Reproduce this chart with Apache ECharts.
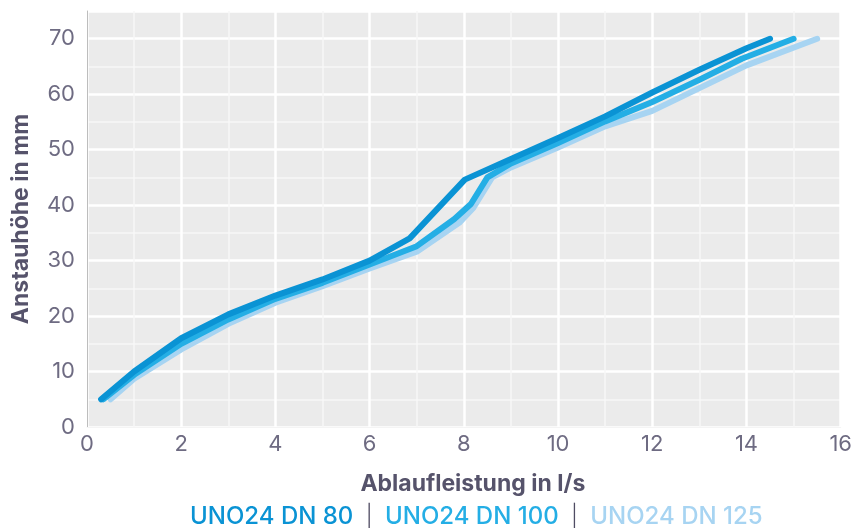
<!DOCTYPE html>
<html>
<head>
<meta charset="utf-8">
<script src="https://cdn.jsdelivr.net/npm/echarts@6/dist/echarts.min.js"></script>
<style>
html,body{margin:0;padding:0;background:#fff;}
#c{width:855px;height:528px;}
</style>
</head>
<body>
<div id="c"></div>
<script>
// Data (x = Ablaufleistung in l/s, y = Anstauhöhe in mm)
const seriesNames = ['UNO24 DN 80', 'UNO24 DN 100', 'UNO24 DN 125'];
const dn80 = [[0.3,5],[1,10],[2,16],[3,20.3],[4,23.7],[5,26.6],[6,30],[6.85,34],[8.02,44.6],[9,48.3],[10,52.1],[11,56],[12,60.3],[13,64.4],[14,68.3],[14.5,70]];
const dn100 = [[0.35,5],[1,9.4],[2,15],[3,19.4],[4,23.1],[5,26],[6,29.3],[7,32.6],[7.8,37.5],[8.15,40.2],[8.5,45],[9,47.5],[10,51.2],[11,55.1],[12,58.6],[13,62.6],[13.9,66.4],[15,70]];
const dn125 = [[0.5,5],[1,8.7],[2,14],[3,18.6],[4,22.4],[5,25.4],[6,28.6],[7,31.6],[7.9,36.8],[8.2,39.5],[8.6,45],[9,46.8],[10,50.4],[11,54.2],[12,57],[13,61.1],[14,65.2],[15.5,70]];
const xTicks = {min: 0, max: 16, interval: 2};
const yTicks = {min: 0, max: 75, interval: 10};
const xName = 'Ablaufleistung in l/s';
const yName = 'Anstauhöhe in mm';

const colors = ['#0a93d4', '#24aee5', '#a7d4f2'];
const FONT = 'Inter';
const chart = echarts.init(document.getElementById('c'), null, {renderer: 'canvas'});

function mkSeries(name, data, color, z) {
  return {
    name: name, type: 'line', data: data, symbol: 'none', z: z,
    lineStyle: {color: color, width: 6, cap: 'round', join: 'round'},
    itemStyle: {color: color}
  };
}

chart.setOption({
  animation: false,
  backgroundColor: '#ffffff',
  grid: {left: 87, right: 7, top: 11, bottom: 101, show: true, backgroundColor: '#ebebeb', borderWidth: 0},
  xAxis: {
    type: 'value', min: xTicks.min, max: xTicks.max, interval: xTicks.interval,
    name: xName, nameLocation: 'middle', nameGap: 46,
    nameTextStyle: {fontFamily: FONT, fontWeight: 'bold', fontSize: 23, color: '#56536b', padding: [0, 0, 0, 18]},
    axisLine: {show: true, lineStyle: {color: '#f4f4f4', width: 1}},
    axisTick: {show: false},
    axisLabel: {fontFamily: FONT, fontSize: 22, color: '#6e6b82', margin: 6},
    splitLine: {show: true, lineStyle: {color: '#ffffff', width: 2.5}},
    minorTick: {show: false, splitNumber: 2},
    minorSplitLine: {show: true, lineStyle: {color: '#f8f8f8', width: 1.5}}
  },
  yAxis: {
    type: 'value', min: yTicks.min, max: yTicks.max, interval: yTicks.interval,
    name: yName, nameLocation: 'middle', nameGap: 54, nameRotate: 90,
    nameTextStyle: {fontFamily: FONT, fontWeight: 'bold', fontSize: 23, color: '#56536b'},
    axisLine: {show: true, lineStyle: {color: '#bdbdbd', width: 1}},
    axisTick: {show: false},
    axisLabel: {fontFamily: FONT, fontSize: 22, color: '#6e6b82', margin: 12, showMaxLabel: false},
    splitLine: {show: true, lineStyle: {color: '#ffffff', width: 2.5}},
    minorTick: {show: false, splitNumber: 2},
    minorSplitLine: {show: true, lineStyle: {color: '#f8f8f8', width: 1.5}}
  },
  series: [
    mkSeries(seriesNames[2], dn125, colors[2], 2),
    mkSeries(seriesNames[1], dn100, colors[1], 3),
    mkSeries(seriesNames[0], dn80, colors[0], 4)
  ],
  graphic: [{
    type: 'text', left: 190, top: 505,
    style: {
      text: '{a|' + seriesNames[0] + '}{s|  |  }{b|' + seriesNames[1] + '}{s|  |  }{c|' + seriesNames[2] + '}',
      rich: {
        a: {fill: colors[0], fontFamily: FONT, fontSize: 24, fontWeight: 500},
        b: {fill: colors[1], fontFamily: FONT, fontSize: 24, fontWeight: 500},
        c: {fill: colors[2], fontFamily: FONT, fontSize: 24, fontWeight: 500},
        s: {fill: '#4f4c63', fontFamily: FONT, fontSize: 22, fontWeight: 300}
      }
    }
  }]
});
</script>
</body>
</html>
